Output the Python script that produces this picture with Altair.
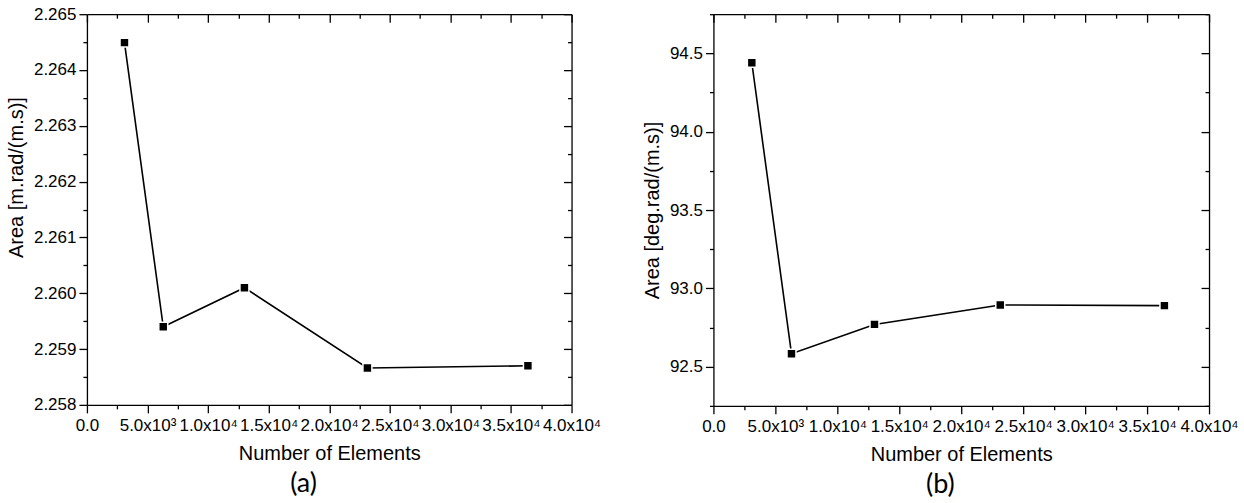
import altair as alt
import pandas as pd

# ---- data ----
elements = [3100, 6300, 13000, 23150, 36400]
area_a = [2.26449, 2.25940, 2.26010, 2.25866, 2.25870]
area_b = [94.44, 92.583, 92.77, 92.894, 92.89]

x_major = [0, 5000, 10000, 15000, 20000, 25000, 30000, 35000, 40000]
x_minor = [2500, 7500, 12500, 17500, 22500, 27500, 32500, 37500]
x_labels = ["0.0", "5.0x10³", "1.0x10⁴", "1.5x10⁴", "2.0x10⁴",
            "2.5x10⁴", "3.0x10⁴", "3.5x10⁴", "4.0x10⁴"]
x_domain = [0, 40000]

ya_major = [2.258, 2.259, 2.260, 2.261, 2.262, 2.263, 2.264, 2.265]
ya_minor = [2.2585, 2.2595, 2.2605, 2.2615, 2.2625, 2.2635, 2.2645]
ya_domain = [2.258, 2.265]

yb_major = [92.5, 93.0, 93.5, 94.0, 94.5]
yb_minor = [92.25, 92.75, 93.25, 93.75, 94.25, 94.75]
yb_domain = [92.25, 94.75]

FONT = "Liberation Sans, Arial, sans-serif"


def js_list(vals):
    return "[" + ",".join(repr(v) for v in vals) + "]"


x_label_expr = ""
for v, l in zip(x_major, x_labels):
    x_label_expr += f"datum.value == {v} ? '{l}' : "
x_label_expr += "''"


def tick_size(major, big, small):
    return {"condition": {"test": f"indexof({js_list(major)}, datum.value) >= 0", "value": big},
            "value": small}


def panel(yvals, ydomain, ymajor, yminor, yfmt, ytitle, caption, W, H, title_y=None):
    df = pd.DataFrame({"elements": elements, "area": yvals})
    xscale = alt.Scale(domain=x_domain, nice=False, zero=False)
    yscale = alt.Scale(domain=ydomain, nice=False, zero=False)
    x_ticks = sorted(x_major + x_minor)
    y_ticks = sorted(ymajor + yminor)
    common = dict(domainColor="black", tickColor="black", domainWidth=1.3, tickWidth=1.3,
                  grid=False)
    x_axis = alt.Axis(values=x_ticks, labelExpr=x_label_expr, title="Number of Elements",
                      tickSize=tick_size(x_major, 8, 4), labelPadding=5,
                      labelOverlap=False, labelFlush=False, labelFont=FONT, labelFontSize=17,
                      labelColor="black", titleFont=FONT, titleFontSize=20,
                      titleFontWeight="normal", titleColor="black", titlePadding=10, **common)
    yextra = {} if title_y is None else {"titleY": title_y}
    y_axis = alt.Axis(values=y_ticks,
                      labelExpr=f"indexof({js_list(ymajor)}, datum.value) >= 0 ? format(datum.value, '{yfmt}') : ''",
                      title=ytitle, tickSize=tick_size(ymajor, 8, 4), labelPadding=3,
                      labelOverlap=False, labelFlush=False, labelFont=FONT, labelFontSize=17,
                      labelColor="black", titleFont=FONT, titleFontSize=20,
                      titleFontWeight="normal", titleColor="black", titlePadding=7,
                      **yextra, **common)
    x_mirror = alt.Axis(orient="bottom", offset=-H, values=x_ticks, labels=False, title=None,
                        tickSize=tick_size(x_major, 8, 4), **common)
    y_mirror = alt.Axis(orient="left", offset=-W, values=y_ticks, labels=False, title=None,
                        tickSize=tick_size(ymajor, 8, 4), **common)

    line = alt.Chart(df).mark_line(color="black", strokeWidth=1.6).encode(
        x=alt.X("elements:Q", scale=xscale, axis=x_axis),
        y=alt.Y("area:Q", scale=yscale, axis=y_axis),
    )
    pts = alt.Chart(df).mark_point(shape="square", filled=True, color="black", size=80,
                                   stroke="white", strokeWidth=1.5, opacity=1).encode(
        x=alt.X("elements:Q", scale=xscale, axis=x_mirror),
        y=alt.Y("area:Q", scale=yscale, axis=y_mirror),
    )
    return alt.layer(line, pts).resolve_axis(x="independent", y="independent").properties(
        width=W, height=H,
        title=alt.TitleParams(caption, orient="bottom", font="Lato", fontSize=27,
                              fontWeight="normal", color="black", offset=7, frame="bounds"),
    )


pa = panel(area_a, ya_domain, ya_major, ya_minor, ".3f", "Area [m.rad/(m.s)]", "(a)", 485, 391,
           title_y=163)
pb = panel(area_b, yb_domain, yb_major, yb_minor, ".1f", "Area [deg.rad/(m.s)]", "(b)", 496, 392)

chart = alt.hconcat(pa, pb, spacing=40).configure_view(stroke=None).properties(
    padding={"left": 6, "top": 5, "right": 5, "bottom": 5}, background="white"
)

chart.save("out.html", embed_options={"renderer": "svg", "actions": False})
